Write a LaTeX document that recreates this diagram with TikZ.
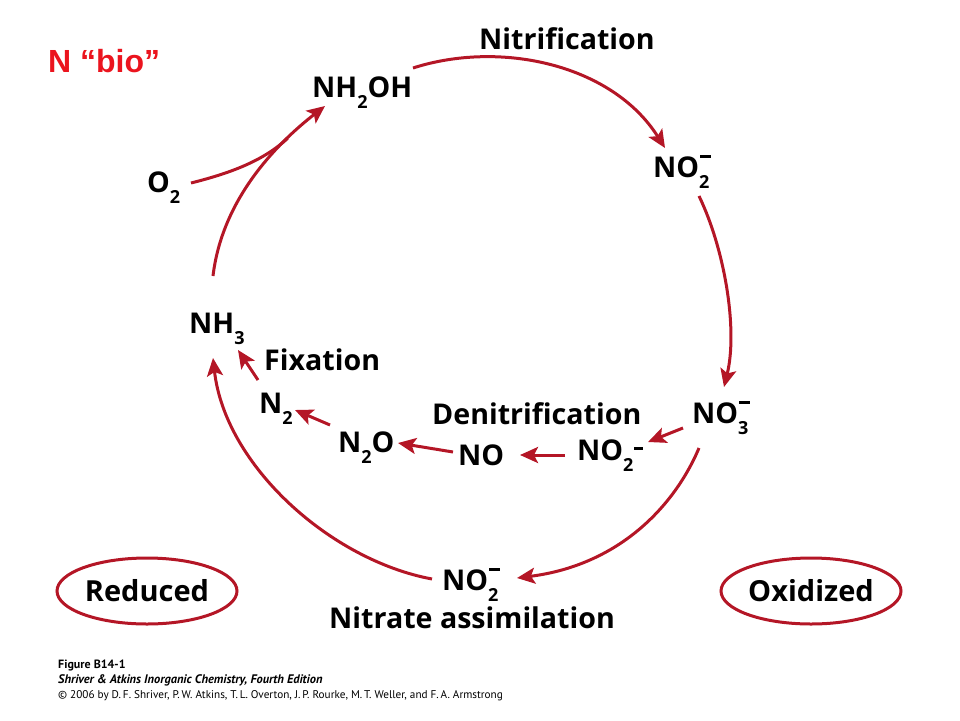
\documentclass[tikz,border=0pt]{standalone}
\usepackage{fontspec}
\setmainfont{Open Sans}
\newfontfamily\capfont{PT Sans}
\newfontfamily\labelfont{Liberation Sans}
\usetikzlibrary{arrows.meta,shapes.geometric}
\definecolor{cycred}{RGB}{180,22,38}
\definecolor{titlered}{RGB}{235,20,30}
\newcommand{\lo}[1]{\raisebox{-11pt}{\fontsize{18}{18}\selectfont #1}}
\newcommand{\ionm}[1]{\rlap{\kern1pt\raisebox{19pt}{\rule{11pt}{3.5pt}}}\lo{#1}}
\tikzset{
  species/.style={anchor=base west,inner sep=0pt,font=\fontsize{28.6}{32}\selectfont\bfseries},
  cycarrow/.style={draw=cycred,line width=3pt,-{Stealth[length=18pt,width=16pt,inset=4pt]}},
  cycline/.style={draw=cycred,line width=3pt},
  statebox/.style={draw=cycred,line width=3pt,ellipse,minimum width=180pt,minimum height=66pt,inner sep=0pt,font=\fontsize{29}{32}\selectfont\bfseries},
  captext/.style={anchor=base west,inner sep=0pt,font=\capfont\fontsize{11.2}{15}\selectfont}
}

\begin{document}
\begin{tikzpicture}[x=1pt,y=-1pt]
    \useasboundingbox (0,0) rectangle (960,720);

    \node[anchor=base west,inner sep=0pt,text=titlered,font=\labelfont\bfseries\fontsize{32}{36}\selectfont] (title) at (48,72) {N “bio”};

    % the species round the cycle
    \node[species] (nitr) at (479,49) {Nitrification};
    \node[species] (nh2oh) at (312,97) {NH\lo{2}OH};
    \node[species] (o2) at (147,192) {O\lo{2}};
    \node[species] (no2a) at (653,177) {NO\ionm{2}};
    \node[species] (no3) at (692,423) {NO\ionm{3}};
    \node[species] (nh3) at (189,333) {NH\lo{3}};
    \node[species] (fix) at (264,370) {Fixation};
    \node[species] (n2) at (259,413) {N\lo{2}};
    \node[species] (n2o) at (338,452) {N\lo{2}O};
    \node[species] (denit) at (432,424) {Denitrification};
    \node[species] (no) at (458,465) {NO};
    \node[species] (no2b) at (577,460) {NO\lo{2}\kern1pt\raisebox{10pt}{\rule{9pt}{3.5pt}}};
    \node[species] (no2c) at (442,590) {NO\ionm{2}};
    \node[species] (assim) at (329,628) {Nitrate assimilation};

    \node[statebox] (red) at (147,591) {Reduced};
    \node[statebox] (ox) at (811,591) {Oxidized};

    % outer cycle
    \draw[cycarrow] ([shift={(24,-57)}]nh3.base west) .. controls +(9,-76) and +(-50,39) .. coordinate[pos=0.75] (join) ([shift={(13,9)}]nh2oh.base west);
    \draw[cycline] ([shift={(44,-9)}]o2.base west) .. controls +(44,-11) and +(-23,21) .. (join);
    \draw[cycarrow] ([shift={(101,-29)}]nh2oh.base west) .. controls +(87,-28) and +(-53,-84) .. ([shift={(12,-29)}]no2a.base west);
    \draw[cycarrow] ([shift={(46,19)}]no2a.base west) .. controls +(26,54) and +(14,-57) .. ([shift={(32,-36)}]no3.base west);
    \draw[cycarrow] ([shift={(7,25)}]no3.base west) .. controls +(-24,57) and +(103,-13) .. ([shift={(75,-12)}]no2c.base west);
    \draw[cycarrow] ([shift={(-10,-11)}]no2c.base west) .. controls +(-102,-19) and +(12,107) .. ([shift={(24,25)}]nh3.base west);

    % denitrification and fixation
    \draw[cycarrow] ([shift={(-9,5)}]no3.base west) -- ([shift={(71,-18)}]no2b.base west);
    \draw[cycarrow] ([shift={(-12,-5)}]no2b.base west) -- ([shift={(62,-10)}]no.base west);
    \draw[cycarrow] ([shift={(-5,-13)}]no.base west) -- ([shift={(60,-9)}]n2o.base west);
    \draw[cycarrow] ([shift={(-8,-27)}]n2o.base west) -- ([shift={(36,-3)}]n2.base west);
    \draw[cycarrow] ([shift={(-1,-33)}]n2.base west) -- ([shift={(49,17)}]nh3.base west);

    \node[captext,font=\capfont\fontsize{12}{15}\selectfont\bfseries] (fig) at (58,668) {Figure B14-1};
    \node[captext,font=\capfont\fontsize{12.4}{15}\selectfont\bfseries\itshape] (book) at (58,683) {Shriver \& Atkins Inorganic Chemistry, Fourth Edition};
    \node[captext] (copy) at (58,698) {© 2006 by D.\,F. Shriver, P.\,W. Atkins, T.\,L. Overton, J.\,P. Rourke, M.\,T. Weller, and F.\,A. Armstrong};
\end{tikzpicture}
\end{document}
